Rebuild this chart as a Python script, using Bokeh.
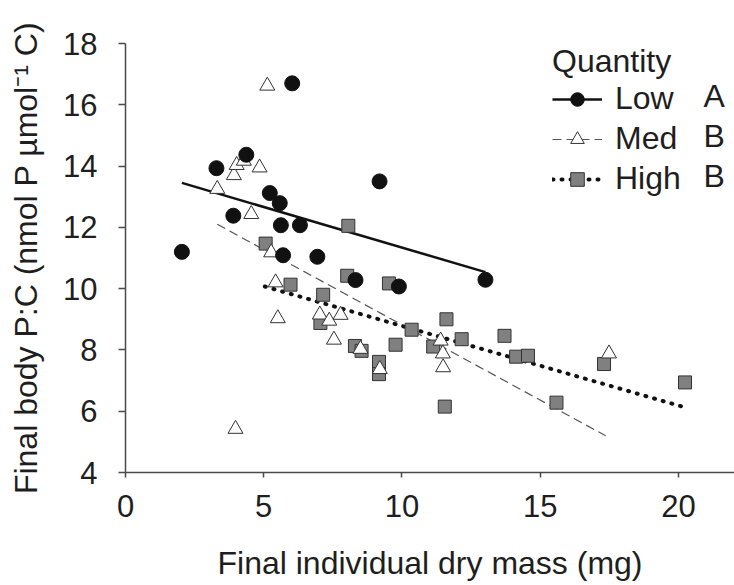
from bokeh.plotting import figure
from bokeh.models import Range1d, FixedTicker, Legend, LegendItem, Label
from bokeh.embed import file_html
from bokeh.resources import INLINE

# ---- data ----
low_x = [2.04, 3.29, 3.90, 4.37, 5.22, 5.58, 5.62, 5.70, 6.03, 6.31, 6.94, 8.32, 9.19, 9.89, 13.02]
low_y = [11.2, 13.93, 12.38, 14.37, 13.12, 12.79, 12.07, 11.09, 16.70, 12.07, 11.04, 10.28, 13.50, 10.07, 10.29]

med_x = [3.32, 3.92, 3.98, 4.02, 4.28, 4.55, 4.85, 5.13, 5.27, 5.43, 5.51, 7.03, 7.37, 7.54, 7.78,
         8.50, 9.20, 11.40, 11.48, 11.49, 17.49]
med_y = [13.25, 13.70, 5.42, 14.03, 14.17, 12.43, 13.95, 16.62, 11.18, 10.20, 9.03, 9.15, 8.95, 8.33, 9.14,
         8.03, 7.37, 8.30, 7.88, 7.43, 7.88]

high_x = [5.07, 5.97, 7.05, 7.15, 8.06, 8.02, 8.30, 8.54, 9.17, 9.17, 9.53, 9.77, 10.35, 11.13, 11.55,
          11.61, 12.16, 13.71, 14.13, 14.56, 15.59, 17.31, 20.24]
high_y = [11.47, 10.13, 8.88, 9.80, 12.05, 10.42, 8.13, 7.97, 7.61, 7.21, 10.17, 8.17, 8.66, 8.11, 6.15,
          9.00, 8.35, 8.46, 7.78, 7.81, 6.28, 7.54, 6.94]

# regression line end points
low_fit_x = [2.04, 13.02]
low_fit_y = [13.45, 10.54]
med_fit_x = [3.32, 17.37]
med_fit_y = [12.10, 5.20]
high_fit_x = [5.04, 20.26]
high_fit_y = [10.07, 6.12]

groups = ["Low", "Med", "High"]
letters = ["A", "B", "B"]
x_ticks = [0, 5, 10, 15, 20]
y_ticks = [4, 6, 8, 10, 12, 14, 16, 18]

FONT = "Liberation Sans"
TXT = "#1e1e1e"
AX = "#4a4a4a"

p = figure(width=734, height=585, output_backend="svg", toolbar_location=None,
           x_range=Range1d(0, 22.03), y_range=Range1d(4, 18),
           min_border_left=125, min_border_right=0, min_border_top=43, min_border_bottom=113)
p.outline_line_color = None
p.grid.visible = False
p.background_fill_color = "white"

for ax in (p.xaxis[0], p.yaxis[0]):
    ax.axis_line_color = AX
    ax.axis_line_width = 1.5
    ax.major_tick_line_color = AX
    ax.major_tick_line_width = 1.5
    ax.major_tick_in = 0
    ax.minor_tick_line_color = None
    ax.major_label_text_font = FONT
    ax.major_label_text_font_size = "31px"
    ax.major_label_text_color = TXT
    ax.axis_label_text_font = FONT
    ax.axis_label_text_font_size = "32px"
    ax.axis_label_text_font_style = "normal"
    ax.axis_label_text_color = TXT

p.xaxis.ticker = FixedTicker(ticks=x_ticks)
p.yaxis.ticker = FixedTicker(ticks=y_ticks)
p.xaxis.major_tick_out = 5
p.yaxis.major_tick_out = 7
p.xaxis.major_label_standoff = 17
p.yaxis.major_label_standoff = 21
p.xaxis.axis_label = "Final individual dry mass (mg)"
p.yaxis.axis_label = "Final body P:C (nmol P \u00b5mol\u207b\u00b9 C)"
p.xaxis.axis_label_standoff = 25
p.yaxis.axis_label_standoff = 16

# fitted lines
l_low = p.line(low_fit_x, low_fit_y, line_color="#111111", line_width=2.5)
l_med = p.line(med_fit_x, med_fit_y, line_color="#555555", line_width=1.2, line_dash="9 5")
l_high = p.line(high_fit_x, high_fit_y, line_color="#111111", line_width=4, line_dash="1 8",
                line_cap="round")

# points
s_high = p.scatter(high_x, high_y, marker="square", size=13, fill_color="#808080",
                   line_color="#333333", line_width=1)
s_med = p.scatter(med_x, med_y, marker="triangle", size=15, fill_color="white",
                  line_color="#333333", line_width=1)
s_low = p.scatter(low_x, low_y, marker="circle", size=15, fill_color="#111111",
                  line_color="#111111")

legend = Legend(items=[
    LegendItem(label=groups[0], renderers=[l_low, s_low]),
    LegendItem(label=groups[1], renderers=[l_med, s_med]),
    LegendItem(label=groups[2], renderers=[l_high, s_high]),
], location=(427, 275))
legend.title = "Quantity"
legend.title_text_font = FONT
legend.title_text_font_size = "32px"
legend.title_text_font_style = "normal"
legend.title_text_color = TXT
legend.title_standoff = 0
legend.label_text_font = FONT
legend.label_text_font_size = "32px"
legend.label_text_color = TXT
legend.glyph_width = 50
legend.glyph_height = 34
legend.label_standoff = 13
legend.label_height = 37
legend.spacing = 3
legend.padding = 10
legend.margin = 0
legend.border_line_color = None
legend.background_fill_alpha = 0
p.add_layout(legend)

row_y = [16.29, 14.99, 13.68]
for letter, yy in zip(letters, row_y):
    p.add_layout(Label(x=20.91, y=yy, text=letter, text_font=FONT, text_font_size="32px",
                       text_color=TXT, text_baseline="middle", text_align="left"))

open("out.html", "w").write(file_html(p, INLINE))
